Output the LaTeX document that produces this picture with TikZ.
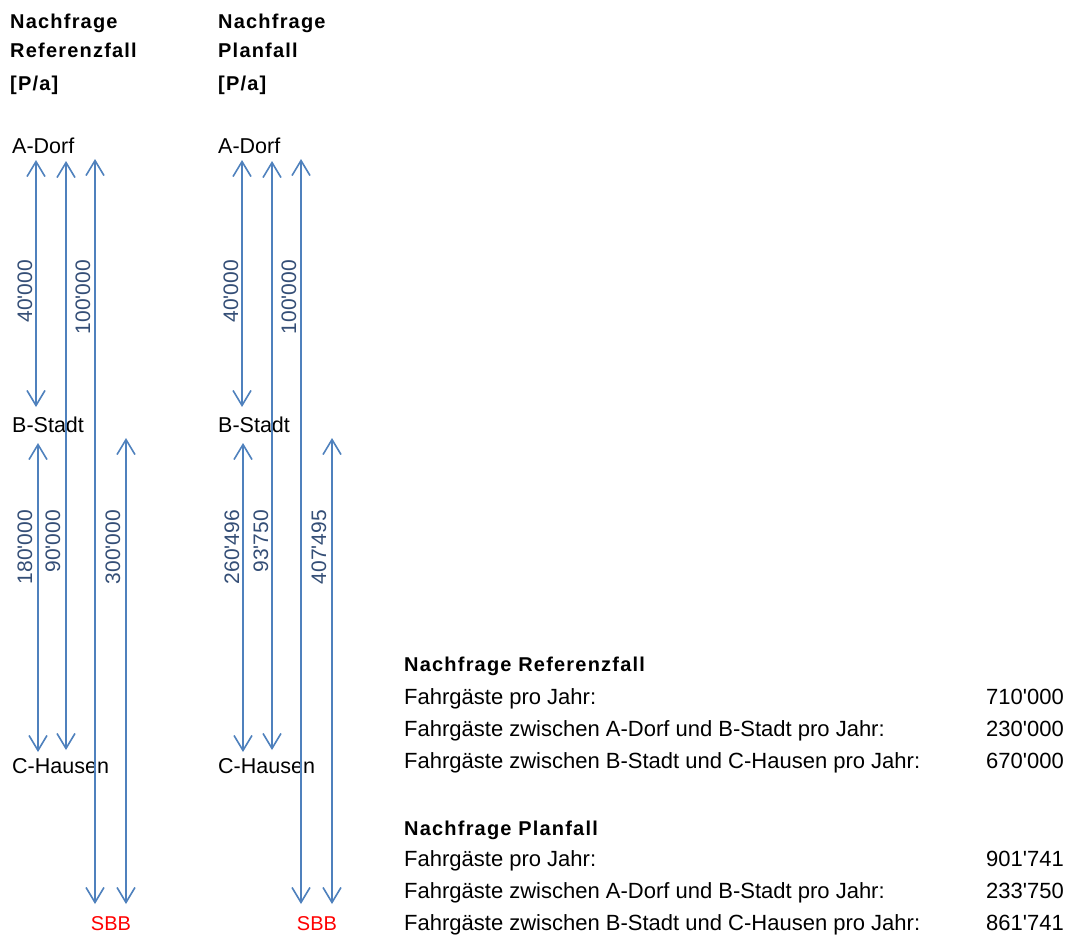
\documentclass[tikz,border=0pt]{standalone}
\usepackage{fontspec}
\newfontfamily\af{Liberation Sans}
\newfontfamily\afsp{Liberation Sans}[LetterSpace=6]
\usetikzlibrary{arrows.meta}
\definecolor{arrowblue}{RGB}{79,129,189}
\definecolor{numblue}{RGB}{52,78,118}
\definecolor{sbbred}{RGB}{255,0,0}
\begin{document}
\begin{tikzpicture}[x=1pt,y=-1pt,
  conn/.style={draw=arrowblue, line width=1.6pt,
    {Straight Barb[length=15pt,width=18pt]}-{Straight Barb[length=15pt,width=18pt]}},
  station/.style={inner sep=0pt, anchor=base west, font=\af\fontsize{21.5}{25}\selectfont},
  head/.style={inner sep=0pt, anchor=base west, font=\afsp\bfseries\fontsize{20}{24}\selectfont},
  vlabel/.style={inner sep=0pt, anchor=east, rotate=90, text=numblue, font=\af\fontsize{21}{25}\selectfont},
  sbb/.style={inner sep=0pt, anchor=base, text=sbbred, font=\af\fontsize{20}{24}\selectfont},
  row/.style={inner sep=0pt, anchor=base west, font=\af\fontsize{22}{26}\selectfont},
  val/.style={inner sep=0pt, anchor=base east, font=\af\fontsize{22}{26}\selectfont}]
\useasboundingbox (0,0) rectangle (1073,934);

% headings
\node[head] (h1a) at (10,29) {Nachfrage};
\node[head] (h1b) at (10,58) {Referenzfall};
\node[head] (h1c) at (10,90) {[P/a]};
\node[head] (h2a) at (218,29) {Nachfrage};
\node[head] (h2b) at (218,58) {Planfall};
\node[head] (h2c) at (218,90) {[P/a]};

% stations left
\node[station] (lA) at (12,153) {A-Dorf};
\node[station] (lB) at (12,432) {B-Stadt};
\node[station] (lC) at (12,773) {C-Hausen};
\node[sbb] (lS) at (111,930) {SBB};
% stations right
\node[station] (rA) at (218,153) {A-Dorf};
\node[station] (rB) at (218,432) {B-Stadt};
\node[station] (rC) at (218,773) {C-Hausen};
\node[sbb] (rS) at (317,930) {SBB};

% arrow end points left
\coordinate (L1t) at (36,160);  \coordinate (L1b) at (36,407);
\coordinate (L2t) at (66,161);  \coordinate (L2b) at (66,750);
\coordinate (L3t) at (95,159);  \coordinate (L3b) at (95,904);
\coordinate (L4t) at (38,443);  \coordinate (L4b) at (38,752);
\coordinate (L5t) at (126,438); \coordinate (L5b) at (126,904);
% arrow end points right
\coordinate (R1t) at (242,160); \coordinate (R1b) at (242,407);
\coordinate (R2t) at (272,161); \coordinate (R2b) at (272,750);
\coordinate (R3t) at (301,159); \coordinate (R3b) at (301,904);
\coordinate (R4t) at (243,443); \coordinate (R4b) at (243,752);
\coordinate (R5t) at (332,438); \coordinate (R5b) at (332,904);

\draw[conn] (L1t) -- (L1b);
\draw[conn] (L2t) -- (L2b);
\draw[conn] (L3t) -- (L3b);
\draw[conn] (L4t) -- (L4b);
\draw[conn] (L5t) -- (L5b);
\draw[conn] (R1t) -- (R1b);
\draw[conn] (R2t) -- (R2b);
\draw[conn] (R3t) -- (R3b);
\draw[conn] (R4t) -- (R4b);
\draw[conn] (R5t) -- (R5b);

% labels left
\node[vlabel] (n1) at (25,260) {40'000};
\node[vlabel] (n2) at (83,260) {100'000};
\node[vlabel] (n3) at (25,510) {180'000};
\node[vlabel] (n4) at (53,510) {90'000};
\node[vlabel] (n5) at (113,510) {300'000};
% labels right
\node[vlabel] (m1) at (231,260) {40'000};
\node[vlabel] (m2) at (289,260) {100'000};
\node[vlabel] (m3) at (232,510) {260'496};
\node[vlabel] (m4) at (261,510) {93'750};
\node[vlabel] (m5) at (319,510) {407'495};

% summary block
\node[head] (s1) at (404,671) {Nachfrage Referenzfall};
\node[row] (s1a) at (404,704) {Fahrgäste pro Jahr:};
\node[row] (s1b) at (404,736) {Fahrgäste zwischen A-Dorf und B-Stadt pro Jahr:};
\node[row] (s1c) at (404,768) {Fahrgäste zwischen B-Stadt und C-Hausen pro Jahr:};
\node[val] (v1a) at (1064,704) {710'000};
\node[val] (v1b) at (1064,736) {230'000};
\node[val] (v1c) at (1064,768) {670'000};

\node[head] (s2) at (404,835) {Nachfrage Planfall};
\node[row] (s2a) at (404,866) {Fahrgäste pro Jahr:};
\node[row] (s2b) at (404,898) {Fahrgäste zwischen A-Dorf und B-Stadt pro Jahr:};
\node[row] (s2c) at (404,930) {Fahrgäste zwischen B-Stadt und C-Hausen pro Jahr:};
\node[val] (v2a) at (1064,866) {901'741};
\node[val] (v2b) at (1064,898) {233'750};
\node[val] (v2c) at (1064,930) {861'741};
\end{tikzpicture}
\end{document}
